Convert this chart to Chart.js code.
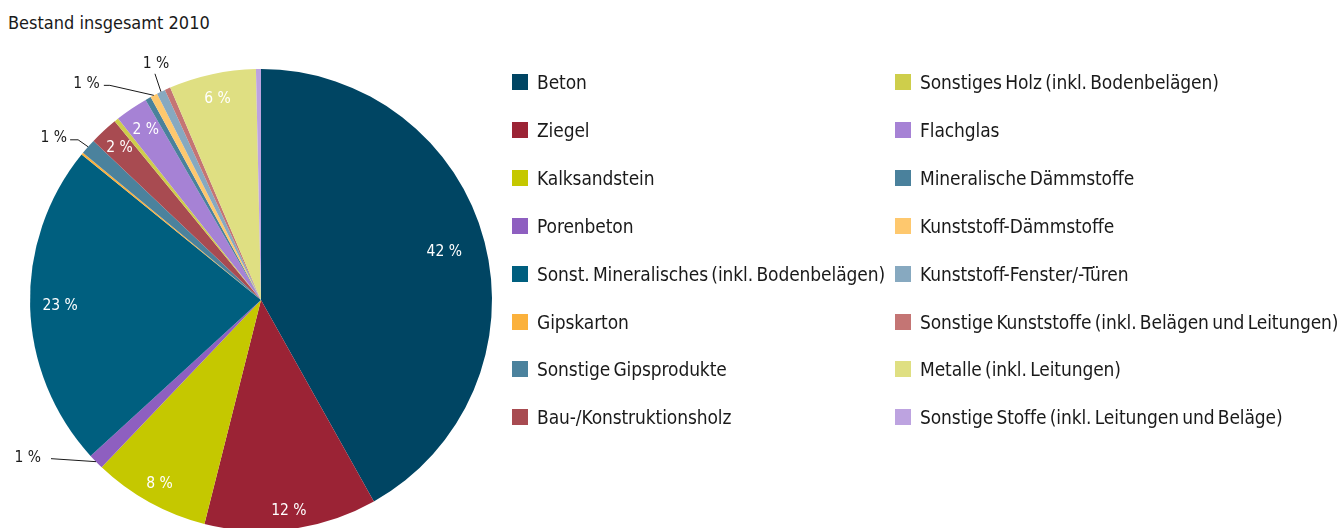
<!DOCTYPE html>
<html><head><meta charset="utf-8">
<script src="https://cdn.jsdelivr.net/npm/chart.js@4.4.0/dist/chart.umd.min.js"></script>
<style>
html,body{margin:0;padding:0;background:#fff;width:1344px;height:528px;overflow:hidden;}
body{font-family:"Liberation Sans Narrow","DejaVu Sans Condensed",sans-serif;color:#1a1a1a;}
#title{position:absolute;left:8px;top:12px;font-size:18px;line-height:22px;white-space:nowrap;}
#c{position:absolute;left:0;top:0;}
.lg{position:absolute;display:flex;align-items:center;height:16px;white-space:nowrap;font-size:19px;word-spacing:-2px;letter-spacing:-0.1px;}
.lg span.sw{display:inline-block;width:16px;height:16px;margin-right:9px;flex:none;}
</style></head>
<body>
<div id="title">Bestand insgesamt 2010</div>
<canvas id="c" width="1344" height="528"></canvas>
<div id="legend"></div>
<script>
const categories = [
  "Beton","Ziegel","Kalksandstein","Porenbeton",
  "Sonst. Mineralisches (inkl. Bodenbelägen)","Gipskarton","Sonstige Gipsprodukte","Bau-/Konstruktionsholz",
  "Sonstiges Holz (inkl. Bodenbelägen)","Flachglas","Mineralische Dämmstoffe","Kunststoff-Dämmstoffe",
  "Kunststoff-Fenster/-Türen","Sonstige Kunststoffe (inkl. Belägen und Leitungen)","Metalle (inkl. Leitungen)","Sonstige Stoffe (inkl. Leitungen und Beläge)"
];
const shares = [42.0, 12.1, 8.2, 1.1, 22.7, 0.15, 1.1, 2.0, 0.3, 2.3, 0.4, 0.5, 0.6, 0.4, 6.1, 0.35];
const pctLabels = ["42 %","12 %","8 %","1 %","23 %","","1 %","2 %","","2 %","","1 %","1 %","","6 %",""];
const colors = ["#004563","#9b2335","#c5c800","#8e5fc0","#005f7f","#fbb13c","#4b829d","#a84b51",
  "#cece4b","#a682d5","#4a819c","#fec86e","#87a9c0","#c47574","#dfdf82","#bda3e0"];

// legend (HTML, built from arrays)
const lg = document.getElementById('legend');
categories.forEach((c,i)=>{
  const col = i < 8 ? 0 : 1, row = i % 8;
  const d = document.createElement('div');
  d.className = 'lg';
  d.style.left = (col ? 895 : 512) + 'px';
  d.style.top = (74 + row*47.9) + 'px';
  d.innerHTML = '<span class="sw" style="background:'+colors[i]+'"></span>' + c;
  lg.appendChild(d);
});

const FONT = '"Liberation Sans Narrow","DejaVu Sans Condensed",sans-serif';
// label styling: inside labels (radius fraction), outside labels (leader line offsets)
const insideR = {0:0.82, 1:0.92, 2:0.91, 4:0.87, 7:0.90, 9:0.89, 14:0.89};
const outside = {
  3:  {pts:[[-45,-3]], tx:-55, ty:-4, align:'right'},
  6:  {pts:[[-10,-7],[-18,-7]], tx:-21, ty:-9, align:'right'},
  11: {pts:[[-44,-10],[-50,-10]], tx:-54, ty:-11, align:'right'},
  12: {pts:[[-6,-18]], tx:-5, ty:-28, align:'center'}
};
const labelPlugin = {
  id:'sliceLabels',
  afterDatasetsDraw(chart){
    const ctx = chart.ctx;
    const meta = chart.getDatasetMeta(0);
    meta.data.forEach((arc,i)=>{
      const t = pctLabels[i];
      if(!t) return;
      const p = arc.getProps(['x','y','startAngle','endAngle','outerRadius'], true);
      const mid = (p.startAngle + p.endAngle)/2;
      ctx.save();
      ctx.font = '15.5px ' + FONT;
      ctx.textBaseline = 'middle';
      if (insideR[i] !== undefined) {
        const r = p.outerRadius * insideR[i];
        ctx.fillStyle = '#ffffff';
        ctx.textAlign = 'center';
        ctx.fillText(t, p.x + Math.cos(mid)*r, p.y + Math.sin(mid)*r);
      } else if (outside[i]) {
        const o = outside[i];
        const ex = p.x + Math.cos(mid)*p.outerRadius, ey = p.y + Math.sin(mid)*p.outerRadius;
        ctx.strokeStyle = '#1a1a1a'; ctx.lineWidth = 1;
        ctx.beginPath(); ctx.moveTo(ex, ey);
        o.pts.forEach(q=>ctx.lineTo(ex+q[0], ey+q[1]));
        ctx.stroke();
        ctx.fillStyle = '#1a1a1a';
        ctx.textAlign = o.align;
        ctx.fillText(t, ex+o.tx, ey+o.ty);
      }
      ctx.restore();
    });
  }
};

new Chart(document.getElementById('c'), {
  type:'pie',
  data:{labels:categories, datasets:[{data:shares, backgroundColor:colors, borderWidth:0, clip:false}]},
  options:{
    responsive:false, animation:false,
    radius:231,
    layout:{padding:{left:30, right:852, top:72, bottom:0}},
    plugins:{legend:{display:false}, tooltip:{enabled:false}}
  },
  plugins:[labelPlugin]
});
</script>
</body></html>
